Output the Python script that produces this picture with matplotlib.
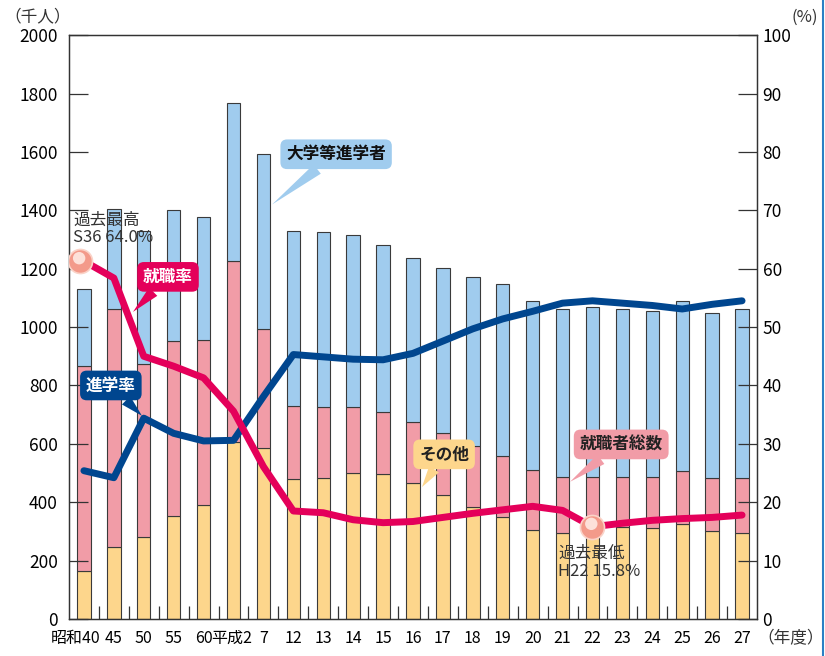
import numpy as np
import matplotlib
matplotlib.use("Agg")
from matplotlib import pyplot as plt
from matplotlib.lines import Line2D
from matplotlib.transforms import ScaledTranslation

plt.rcParams['font.family'] = ['Noto Sans CJK JP', 'DejaVu Sans']

# 年度ラベル
years = ['昭和40', '45', '50', '55', '60', '平成2', '7', '12', '13', '14', '15',
         '16', '17', '18', '19', '20', '21', '22', '23', '24', '25', '26', '27']
# 千人
others = [164, 245, 280, 353, 391, 607, 586, 481, 484, 500, 496, 466, 424, 383,
          348, 305, 296, 300, 315, 312, 325, 300, 294]
employed = [702, 817, 593, 601, 565, 621, 408, 250, 243, 225, 213, 210, 212, 209,
            211, 206, 192, 188, 173, 176, 183, 183, 189]
university = [265, 343, 455, 447, 420, 541, 598, 598, 599, 590, 573, 559, 567, 580,
              589, 579, 575, 581, 574, 566, 581, 566, 580]
# %
job_rate = [61.3, 58.4, 45.0, 43.3, 41.3, 35.6, 26.1, 18.5, 18.2, 17.0, 16.5, 16.7,
            17.4, 18.1, 18.7, 19.3, 18.6, 15.8, 16.4, 16.9, 17.2, 17.4, 17.8]
adv_rate = [25.4, 24.2, 34.4, 31.8, 30.5, 30.6, 38.1, 45.3, 44.9, 44.5, 44.4, 45.5,
            47.6, 49.7, 51.4, 52.7, 54.1, 54.5, 54.1, 53.7, 53.1, 53.9, 54.5]

c_yel = '#FDD68C'
c_pink = '#F19CA7'
c_blue = '#A0CCEE'
c_red = '#E4005A'
c_navy = '#00468F'

fig = plt.figure(figsize=(8.25, 6.56), dpi=100)
ax1 = fig.add_axes([0.0836, 0.0564, 0.834, 0.890])
ax2 = ax1.twinx()

x = np.arange(len(years))
w = 0.45
bot2 = np.array(others) + np.array(employed)
ax1.bar(x, others, w, color=c_yel, edgecolor='#3a3a3a', linewidth=0.8)
ax1.bar(x, employed, w, bottom=others, color=c_pink, edgecolor='#3a3a3a', linewidth=0.8)
ax1.bar(x, university, w, bottom=bot2, color=c_blue, edgecolor='#3a3a3a', linewidth=0.8)

ax1.set_xlim(-0.5, len(years) - 0.5)
ax1.set_ylim(0, 2000)
ax2.set_ylim(0, 100)

ax1.set_yticks(np.arange(0, 2001, 200))
ax2.set_yticks(np.arange(0, 101, 10))
ax1.tick_params(axis='y', direction='in', length=14, width=0.9, labelsize=12.5, pad=8, color='#333')
ax2.tick_params(axis='y', direction='in', length=14, width=0.9, labelsize=12.5, pad=4, color='#333')
ax1.set_xticks(x)
ax1.set_xticklabels(years)
ax1.tick_params(axis='x', length=0, labelsize=11.5, pad=8)
ax1.set_xticks(x[:-1] + 0.5, minor=True)
ax1.tick_params(axis='x', which='minor', direction='in', length=9.5, width=0.9, color='#333')
# 昭和40・平成2 は少しずらす
labs = ax1.get_xticklabels()
labs[0].set_transform(labs[0].get_transform() + ScaledTranslation(-8 / 100, 0, fig.dpi_scale_trans))
labs[5].set_transform(labs[5].get_transform() + ScaledTranslation(-2 / 100, 0, fig.dpi_scale_trans))
for s_ax in (ax1, ax2):
    for s in s_ax.spines.values():
        s.set_linewidth(0.9)
        s.set_color('#333')

# 折れ線
ax2.plot(x, adv_rate, color=c_navy, lw=5, solid_joinstyle='round', solid_capstyle='round', zorder=3)
ax2.plot(x, job_rate, color=c_red, lw=5, solid_joinstyle='round', solid_capstyle='round', zorder=4)

# 過去最高・最低の印
for i in (0, 17):
    mx = x[i] - (0.12 if i == 0 else 0)
    ax2.scatter(mx, job_rate[i], s=300, color='#F39A8A', edgecolor='#FAD3C8',
                linewidth=1.2, zorder=6)
    ax2.scatter(mx - 0.04, job_rate[i] + 0.5, s=80, color='#FFE9E2',
                edgecolor='none', zorder=7, alpha=0.9)

ax2.text(-0.35, 69.8, '過去最高\nS36 64.0%', fontsize=12, color='#333', va='top', ha='left',
         linespacing=1.05, zorder=8)
ax2.text(15.85, 12.7, '過去最低\nH22 15.8%', fontsize=12, color='#333', va='top', ha='left',
         linespacing=1.05, zorder=8)

# 吹き出し
callouts = [
    ('大学等進学者', 8.43, 79.6, 6.29, 71.0, c_blue, '#111'),
    ('就職率', 2.81, 58.6, 1.64, 52.6, c_red, 'white'),
    ('進学率', 0.9, 40.0, 1.94, 34.8, c_navy, 'white'),
    ('その他', 12.04, 28.2, 11.3, 22.6, c_yel, '#222'),
    ('就職者総数', 17.96, 29.9, 16.25, 23.5, c_pink, '#222'),
]
for label, tx, ty, px, py, fc, tc in callouts:
    ax2.annotate(label, xy=(px, py), xytext=(tx, ty), ha='center', va='center',
                 fontsize=12, fontweight='bold', color=tc, zorder=9,
                 bbox=dict(boxstyle='round,pad=0.35,rounding_size=0.4', fc=fc, ec='none'),
                 arrowprops=dict(arrowstyle='wedge,tail_width=0.7,shrink_factor=0.5',
                                 fc=fc, ec='none', shrinkA=0, shrinkB=0))

fig.text(0.046, 0.974, '（千人）', fontsize=12, ha='center', va='center', color='#333')
fig.text(0.975, 0.974, '(%)', fontsize=12, ha='center', va='center', color='#333')
fig.text(0.958, 0.026, '（年度）', fontsize=12, ha='center', va='center', color='#333')

fig.add_artist(Line2D([0.997, 0.997], [0, 1], transform=fig.transFigure, color='#2A80C4', lw=1.5))

fig.savefig('out.png', dpi=100)
